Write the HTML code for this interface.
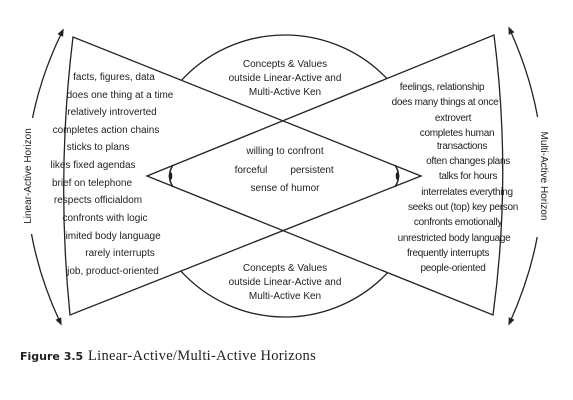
<!DOCTYPE html>
<html><head><meta charset="utf-8"><style>
html,body{margin:0;padding:0;background:#fff;}
svg{display:block;}
text{font-family:"Liberation Sans",sans-serif;font-size:10px;fill:#222;}
</style></head><body>
<svg width="573" height="400" viewBox="0 0 573 400" xmlns="http://www.w3.org/2000/svg">
<defs><marker id="ah" viewBox="0 0 10 10" refX="5" refY="5" markerWidth="6" markerHeight="6" orient="auto-start-reverse"><path d="M0,1 L10,5 L0,9 z" fill="#222"/></marker></defs>
<circle cx="285" cy="176" r="141" fill="none" stroke="#222" stroke-width="1.3"/>
<path d="M421,176 L73,37 Q56,176 70,315 Z" fill="#fff"/>
<path d="M147,176 L494,35 Q512,176 493,315 Z" fill="#fff"/>
<path d="M421,176 L73,37 Q56,176 70,315 Z" fill="none" stroke="#222" stroke-width="1.3"/>
<path d="M147,176 L494,35 Q512,176 493,315 Z" fill="none" stroke="#222" stroke-width="1.3"/>
<path d="M173,165 Q166,176 173,187" fill="none" stroke="#222" stroke-width="1.5"/>
<ellipse cx="170.5" cy="176" rx="1.8" ry="4" fill="#222"/>
<path d="M395,165 Q402,176 395,187" fill="none" stroke="#222" stroke-width="1.5"/>
<ellipse cx="397.5" cy="176" rx="1.8" ry="4" fill="#222"/>
<path d="M62,32 Q-8,176 60,322" fill="none" stroke="#222" stroke-width="1.3" marker-start="url(#ah)" marker-end="url(#ah)"/>
<path d="M510,30 Q576,176 510,322" fill="none" stroke="#222" stroke-width="1.3" marker-start="url(#ah)" marker-end="url(#ah)"/>
<rect x="18" y="118" width="20" height="116" fill="#fff"/>
<rect x="535" y="117" width="20" height="120" fill="#fff"/>
<text transform="translate(31,176) rotate(-90)" text-anchor="middle">Linear-Active Horizon</text>
<text transform="translate(541,176) rotate(90)" text-anchor="middle">Multi-Active  Horizon</text>
<g text-anchor="middle">
<text x="114" y="80">facts, figures, data</text>
<text x="120" y="98">does one thing at a time</text>
<text x="112" y="115">relatively introverted</text>
<text x="106" y="133">completes action chains</text>
<text x="98" y="150">sticks to plans</text>
<text x="93" y="168">likes fixed agendas</text>
<text x="92" y="186">brief on telephone</text>
<text x="98" y="203">respects officialdom</text>
<text x="105" y="221">confronts with logic</text>
<text x="112" y="239">limited body language</text>
<text x="120" y="256">rarely interrupts</text>
<text x="113" y="274">job, product-oriented</text>
<g style="letter-spacing:-0.3px">
<text x="442" y="90">feelings, relationship</text>
<text x="445" y="105">does many things at once</text>
<text x="453" y="121">extrovert</text>
<text x="457" y="136">completes human</text>
<text x="462" y="149">transactions</text>
<text x="468" y="164">often changes plans</text>
<text x="468" y="179">talks for hours</text>
<text x="467" y="195">interrelates everything</text>
<text x="463" y="210">seeks out (top) key person</text>
<text x="458" y="225">confronts emotionally</text>
<text x="454" y="241">unrestricted body language</text>
<text x="448" y="256">frequently interrupts</text>
<text x="453" y="271">people-oriented</text>
</g>
<text x="285" y="67">Concepts &amp; Values</text>
<text x="285" y="81">outside Linear-Active and</text>
<text x="285" y="95">Multi-Active Ken</text>
<text x="285" y="271">Concepts &amp; Values</text>
<text x="285" y="285">outside Linear-Active and</text>
<text x="285" y="299">Multi-Active Ken</text>
<text x="285" y="154">willing to confront</text>
<text x="251" y="173">forceful</text>
<text x="312" y="173">persistent</text>
<text x="285" y="191">sense of humor</text>
</g>
<text x="20" y="360" style="font-family:'DejaVu Sans',sans-serif;font-size:11px;font-weight:bold">Figure 3.5</text>
<text x="88" y="360" style="font-family:'Liberation Serif',serif;font-size:14.5px;letter-spacing:0.3px">Linear-Active/Multi-Active Horizons</text>
</svg>
</body></html>
